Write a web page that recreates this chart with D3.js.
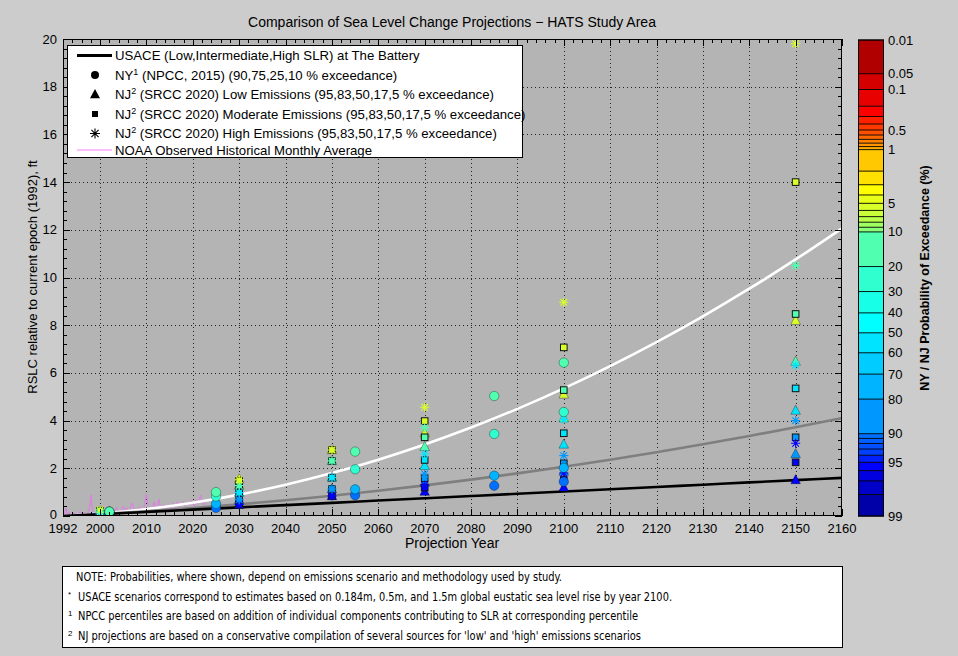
<!DOCTYPE html>
<html><head><meta charset="utf-8">
<script src="https://cdn.jsdelivr.net/npm/d3@7"></script>
<style>body{margin:0;background:#cccccc;} svg{display:block;font-family:"Liberation Sans",Arial,Helvetica,sans-serif;}</style>
</head><body><svg id="c" width="958" height="656"></svg>
<script>
// ---------------- DATA ----------------
const xTickLabels = [1992,2000,2010,2020,2030,2040,2050,2060,2070,2080,2090,2100,2110,2120,2130,2140,2150,2160];
const yTickLabels = [0,2,4,6,8,10,12,14,16,18,20];

// USACE curves at The Battery (ft, relative to 1992)
const usaceYears = [1992,2000,2010,2020,2030,2040,2050,2060,2070,2080,2090,2100,2110,2120,2130,2140,2150,2160];
const usaceLow  = [0,0.076,0.171,0.266,0.362,0.457,0.552,0.647,0.742,0.837,0.932,1.028,1.123,1.218,1.313,1.408,1.503,1.598];
const usaceInt  = [0,0.082,0.200,0.336,0.490,0.662,0.851,1.058,1.283,1.526,1.786,2.065,2.361,2.675,3.006,3.355,3.723,4.107];
const usaceHigh = [0,0.100,0.291,0.557,0.897,1.311,1.799,2.361,2.998,3.708,4.493,5.352,6.285,7.292,8.373,9.529,10.758,12.062];

// NY (NPCC 2015) circles, exceedance 90,75,25,10 %
const nyYears = [2002,2025,2055,2085,2100];
const nyExceed = [90,75,25,10];
const nyValues = [
  [0.18,0.34,0.87,1.27,1.44],
  [0.18,0.51,1.12,1.69,2.02],
  [0.18,0.82,1.96,3.44,4.36],
  [0.18,1.00,2.70,5.03,6.43]
];

// NJ (SRCC 2020), exceedance 95,83,50,17,5 %
const njYears = [2000,2030,2050,2070,2100,2150];
const njExceed = [95,83,50,17,5];
const njLow = [
  [0.10,0.48,0.84,1.02,1.20,1.51],
  [0.12,0.68,1.13,1.40,1.86,2.60],
  [0.15,0.98,1.61,2.10,3.00,4.42],
  [0.18,1.28,2.31,2.90,4.10,6.47],
  [0.22,1.54,2.77,3.47,5.10,8.19]
];
const njModerate = [
  [0.10,0.48,0.84,1.19,1.51,2.25],
  [0.12,0.68,1.13,1.58,2.21,3.30],
  [0.15,0.98,1.61,2.35,3.47,5.35],
  [0.18,1.28,2.31,3.30,5.28,8.47],
  [0.22,1.48,2.77,3.98,7.07,14.0]
];
const njHigh = [
  [0.10,0.48,0.84,1.30,1.80,3.05],
  [0.12,0.68,1.13,1.76,2.53,4.00],
  [0.15,0.98,1.61,2.60,4.05,6.33],
  [0.18,1.28,2.31,3.70,6.40,10.5],
  [0.25,1.52,2.77,4.56,8.96,19.8]
];

// NOAA observed historical average (ft), three samples per year from 1992
const noaaStart = 1992;
const noaaValues = [
 -0.10,0.05,0.32, 0.00,0.15,-0.05, 0.05,0.12,0.10, -0.05,0.08,0.20, 0.10,0.00,0.15,
 0.05,0.10,0.30, 0.88,0.25,0.15, 0.10,0.05,0.35, 0.05,0.12,0.20, 0.00,0.10,0.15,
 0.10,0.05,0.25, 0.15,0.30,0.35, 0.10,0.20,0.30, 0.40,0.20,0.35, 0.25,0.20,0.45,
 0.55,0.20,0.30, 0.25,0.35,0.40, 0.30,0.20,0.60, 0.92,0.45,0.40, 0.30,0.35,0.60,
 0.25,0.40,0.70, 0.35,0.30,0.50, 0.30,0.25,0.45, 0.35,0.30,0.55, 0.45,0.35,0.60,
 0.40,0.50,0.55, 0.60,0.40,0.55, 0.50,0.45,0.65, 0.55,0.40,0.70, 0.50,0.60,0.88,
 0.55,0.45,0.60
];

// Colorbar (probability of exceedance, %)
const cbBounds = [0.01,0.05,0.1,0.2,0.3,0.4,0.5,0.6,0.7,0.8,0.9,1,2,3,4,5,6,7,8,9,10,20,30,40,50,60,70,80,90,91,92,93,94,95,96,97,98,99];
const cbColors = ["#b00000","#d40000","#e80000","#ff0000","#ff2000","#ff3800","#ff5000","#ff6800","#ff8000","#ff9400","#ffa800",
  "#ffc800","#ffe000","#ffff00","#e8ff18","#d8ff28","#c8ff38","#b8ff48","#a0ff60","#88ff78",
  "#50ffb0","#30ffd0","#18ffe8","#00ffff","#00e4ff","#00ccff","#00b4ff","#0098ff",
  "#0070ff","#0060ff","#0050ff","#0040ff","#0020ff","#0000ff","#0000e0","#0000c8","#0000a8"];
const cbTicks = [0.01,0.05,0.1,0.5,1,5,10,20,30,40,50,60,70,80,90,95,99];

// ---------------- DRAW ----------------
const svg = d3.select("#c");
svg.append("rect").attr("width",958).attr("height",656).attr("fill","#cccccc");
const L=63,R=842,T=39,B=516;
const x = d3.scaleLinear().domain([1992,2160]).range([L,R]);
const y = d3.scaleLinear().domain([0,20]).range([B,T]);

svg.append("text").attr("x",452).attr("y",27).attr("text-anchor","middle").attr("font-size",14)
  .text("Comparison of Sea Level Change Projections \u2212 HATS Study Area");

svg.append("rect").attr("x",L).attr("y",T).attr("width",R-L).attr("height",B-T).attr("fill","#b4b4b4");

const grid = svg.append("g").attr("stroke","#222").attr("stroke-width",1).attr("stroke-dasharray","1,3");
xTickLabels.filter(v=>v>1992&&v<2160).forEach(v=>{
  grid.append("line").attr("x1",Math.round(x(v))+0.5).attr("x2",Math.round(x(v))+0.5).attr("y1",T).attr("y2",B);
});
yTickLabels.filter(v=>v>0&&v<20).forEach(v=>{
  grid.append("line").attr("y1",Math.round(y(v))+0.5).attr("y2",Math.round(y(v))+0.5).attr("x1",L).attr("x2",R);
});

svg.append("clipPath").attr("id","clip").append("rect").attr("x",L).attr("y",T).attr("width",R-L).attr("height",B-T);
const plot = svg.append("g").attr("clip-path","url(#clip)");

// NOAA
const noaa = noaaValues.map((v,i)=>({year:noaaStart+i/3, v}));
plot.append("path").datum(noaa).attr("fill","none").attr("stroke","#e27ae8").attr("stroke-width",1)
  .attr("d",d3.line().x(d=>x(d.year)).y(d=>y(d.v)));

// USACE
const lineGen = d3.line().x(d=>x(d[0])).y(d=>y(d[1])).curve(d3.curveMonotoneX);
[[usaceHigh,"#ffffff"],[usaceInt,"#7f7f7f"],[usaceLow,"#000000"]].forEach(([vals,col])=>{
  plot.append("path").datum(usaceYears.map((yr,i)=>[yr,vals[i]])).attr("fill","none")
    .attr("stroke",col).attr("stroke-width",2.6).attr("d",lineGen);
});

function pColor(p){
  for(let i=0;i<cbBounds.length-1;i++){ if(p>=cbBounds[i] && p<cbBounds[i+1]) return cbColors[i]; }
  return cbColors[cbColors.length-1];
}
function tri(g,cx,cy,col,edge){
  g.append("path").attr("d",`M${cx},${cy-5.4}L${cx+4.8},${cy+3.7}L${cx-4.8},${cy+3.7}Z`)
   .attr("fill",col).attr("stroke",edge).attr("stroke-width",0.7);
}
function sq(g,cx,cy,col,edge){
  g.append("rect").attr("x",cx-3.3).attr("y",cy-3.3).attr("width",6.6).attr("height",6.6)
   .attr("fill",col).attr("stroke",edge).attr("stroke-width",1);
}
function star(g,cx,cy,col,s=4.6){
  const d=s*0.72;
  g.append("path").attr("d",`M${cx-s},${cy}H${cx+s}M${cx},${cy-s}V${cy+s}M${cx-d},${cy-d}L${cx+d},${cy+d}M${cx-d},${cy+d}L${cx+d},${cy-d}`)
   .attr("stroke",col).attr("stroke-width",1.1).attr("fill","none");
}
function circ(g,cx,cy,col,edge){
  g.append("circle").attr("cx",cx).attr("cy",cy).attr("r",4.7).attr("fill",col).attr("stroke",edge).attr("stroke-width",0.8);
}

const mk = plot.append("g");
njExceed.forEach((p,k)=>{ njYears.forEach((yr,i)=>tri(mk,x(yr),y(njLow[k][i]),pColor(p),"rgba(0,0,0,0.45)")); });
njExceed.forEach((p,k)=>{ njYears.forEach((yr,i)=>sq(mk,x(yr),y(njModerate[k][i]),pColor(p),"#111")); });
njExceed.forEach((p,k)=>{ njYears.forEach((yr,i)=>star(mk,x(yr),y(njHigh[k][i]),pColor(p))); });
nyExceed.forEach((p,k)=>{ nyYears.forEach((yr,i)=>circ(mk,x(yr),y(nyValues[k][i]),pColor(p),"rgba(0,0,0,0.4)")); });

// Axes box and ticks
const ax = svg.append("g").attr("stroke","#000").attr("stroke-width",1);
ax.append("rect").attr("x",L+0.5).attr("y",T+0.5).attr("width",R-L-1).attr("height",B-T-1).attr("fill","none");
d3.range(1992,2161,2).forEach(v=>{
  const len = xTickLabels.includes(v)?7:4; const xx=Math.round(x(v))+0.5;
  ax.append("line").attr("x1",xx).attr("x2",xx).attr("y1",B).attr("y2",B-len);
  ax.append("line").attr("x1",xx).attr("x2",xx).attr("y1",T).attr("y2",T+len);
});
d3.range(0,101,2).forEach(k=>{
  const v=k/5; const len = (k%10===0)?7:4; const yy=Math.round(y(v))+0.5;
  ax.append("line").attr("y1",yy).attr("y2",yy).attr("x1",L).attr("x2",L+len);
  ax.append("line").attr("y1",yy).attr("y2",yy).attr("x1",R).attr("x2",R-len);
});
const tl = svg.append("g").attr("font-size",13).attr("fill","#000");
xTickLabels.forEach(v=>tl.append("text").attr("x",x(v)).attr("y",533).attr("text-anchor","middle").text(v));
yTickLabels.forEach(v=>tl.append("text").attr("x",57).attr("y",y(v)+(v===0?3:4.5)).attr("text-anchor","end").text(v));
svg.append("text").attr("x",452).attr("y",548).attr("text-anchor","middle").attr("font-size",14).text("Projection Year");
svg.append("text").attr("transform","translate(37,277) rotate(-90)").attr("text-anchor","middle").attr("font-size",13)
  .text("RSLC relative to current epoch (1992), ft");

// Legend
const lg = svg.append("g");
lg.append("rect").attr("x",67.5).attr("y",45.5).attr("width",455).attr("height",112).attr("fill","#fff").attr("stroke","#000");
const rows=[55.5,75,94.5,114,133.5,150];
lg.append("line").attr("x1",77).attr("x2",112).attr("y1",rows[0]).attr("y2",rows[0]).attr("stroke","#000").attr("stroke-width",3);
lg.append("circle").attr("cx",95).attr("cy",rows[1]).attr("r",4).attr("fill","#000");
lg.append("path").attr("d",`M95,${rows[2]-5.4}L100,${rows[2]+3.8}L90,${rows[2]+3.8}Z`).attr("fill","#000");
lg.append("rect").attr("x",92).attr("y",rows[3]-3).attr("width",6).attr("height",6).attr("fill","#000");
star(lg,95,rows[4],"#000",5);
lg.append("line").attr("x1",77).attr("x2",112).attr("y1",rows[5]).attr("y2",rows[5]).attr("stroke","#ff80ff").attr("stroke-width",1.2);
const legTexts = [
  [["USACE (Low,Intermediate,High SLR) at The Battery"]],
  [["NY"],["1",true],[" (NPCC, 2015) (90,75,25,10 % exceedance)"]],
  [["NJ"],["2",true],[" (SRCC 2020) Low Emissions (95,83,50,17,5 % exceedance)"]],
  [["NJ"],["2",true],[" (SRCC 2020) Moderate Emissions (95,83,50,17,5 % exceedance)"]],
  [["NJ"],["2",true],[" (SRCC 2020) High Emissions (95,83,50,17,5 % exceedance)"]],
  [["NOAA Observed Historical Monthly Average"]]
];
legTexts.forEach((parts,i)=>{
  const t = lg.append("text").attr("x",115).attr("y",rows[i]+4.6).attr("font-size",13.2);
  parts.forEach(([s,sup],j)=>{
    if(sup) t.append("tspan").attr("font-size",9).attr("dy",-5).text(s);
    else t.append("tspan").attr("dy", j>0?5:0).text(s);
  });
});

// Colorbar
function normInv(p){
  const a=[-39.69683028665376,220.9460984245205,-275.9285104469687,138.3577518672690,-30.66479806614716,2.506628277459239];
  const b=[-54.47609879822406,161.5858368580409,-155.6989798598866,66.80131188771972,-13.28068155288572];
  const c=[-0.007784894002430293,-0.3223964580411365,-2.400758277161838,-2.549732539343734,4.374664141464968,2.938163982698783];
  const d=[0.007784695709041462,0.3224671290700398,2.445134137142996,3.754408661907416];
  const pl=0.02425; let q,r;
  if(p<pl){q=Math.sqrt(-2*Math.log(p));return (((((c[0]*q+c[1])*q+c[2])*q+c[3])*q+c[4])*q+c[5])/((((d[0]*q+d[1])*q+d[2])*q+d[3])*q+1);}
  if(p>1-pl){q=Math.sqrt(-2*Math.log(1-p));return -(((((c[0]*q+c[1])*q+c[2])*q+c[3])*q+c[4])*q+c[5])/((((d[0]*q+d[1])*q+d[2])*q+d[3])*q+1);}
  q=p-0.5;r=q*q;return (((((a[0]*r+a[1])*r+a[2])*r+a[3])*r+a[4])*r+a[5])*q/(((((b[0]*r+b[1])*r+b[2])*r+b[3])*r+b[4])*r+1);
}
const zOf = p => normInv(1-p/100);
const cbX=858, cbW=26;
const cy = d3.scaleLinear().domain([zOf(0.01),zOf(99)]).range([40,516]);
const cb = svg.append("g");
for(let i=0;i<cbBounds.length-1;i++){
  const y0=cy(zOf(cbBounds[i])), y1=cy(zOf(cbBounds[i+1]));
  cb.append("rect").attr("x",cbX).attr("y",y0).attr("width",cbW).attr("height",y1-y0+0.3).attr("fill",cbColors[i]);
}
cbBounds.forEach(b=>{ const yy=cy(zOf(b));
  cb.append("line").attr("x1",cbX).attr("x2",cbX+cbW).attr("y1",yy).attr("y2",yy).attr("stroke","#000").attr("stroke-width",0.9); });
cb.append("rect").attr("x",cbX+0.5).attr("y",40).attr("width",cbW-1).attr("height",476).attr("fill","none").attr("stroke","#000");
cbTicks.forEach(t=>cb.append("text").attr("x",888).attr("y",cy(zOf(t))+4.5).attr("font-size",13).text(t));
svg.append("text").attr("transform","translate(929,278) rotate(-90)").attr("text-anchor","middle")
  .attr("font-size",12.5).attr("font-weight","bold").text("NY / NJ Probability of Exceedance (%)");

// Notes
const nt = svg.append("g");
nt.append("rect").attr("x",62.5).attr("y",566.5).attr("width",780).attr("height",81).attr("fill","#fff").attr("stroke","#000");
const notes = [
  ["", "NOTE: Probabilities, where shown, depend on emissions scenario and methodology used by study.", 486],
  ["*","USACE scenarios correspond to estimates based on 0.184m, 0.5m, and 1.5m global eustatic sea level rise by year 2100.", 594],
  ["1","NPCC percentiles are based on addition of individual components contributing to SLR at corresponding percentile", 560],
  ["2","NJ projections are based on a conservative compilation of several sources for 'low' and 'high' emissions scenarios", 563]
];
const ny0=[581,601,620,640];
notes.forEach(([sup,txt,w],i)=>{
  if(sup) nt.append("text").attr("x",68).attr("y",ny0[i]-4).attr("font-size",8).text(sup);
  nt.append("text").attr("x",i===0?76:78).attr("y",ny0[i]).attr("font-size",11.5)
    .attr("font-family","'Liberation Sans Narrow','DejaVu Sans Condensed','Liberation Sans',sans-serif")
    .attr("textLength",w).attr("lengthAdjust","spacingAndGlyphs").text(txt);
});
</script></body></html>
